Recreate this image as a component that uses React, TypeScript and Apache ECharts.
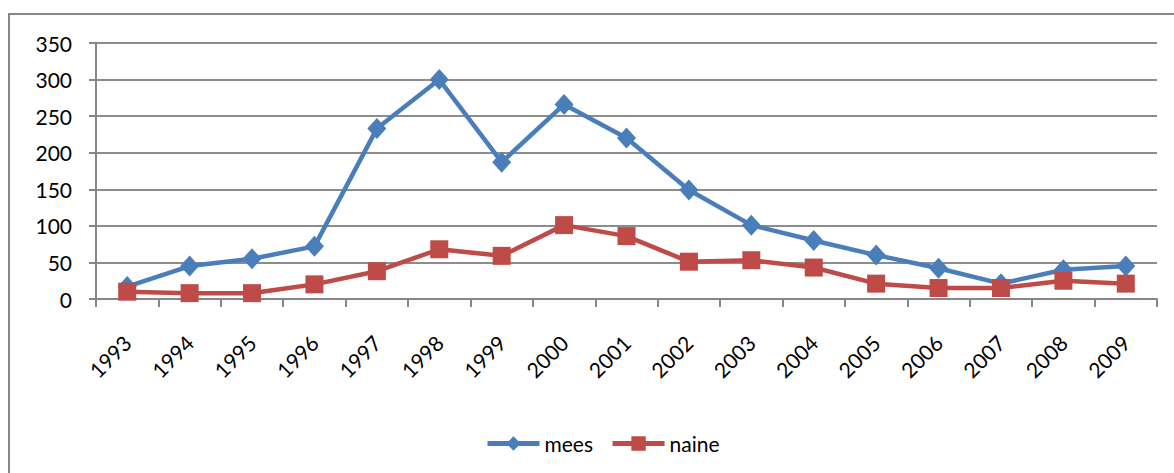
import React, { useEffect, useRef } from "react";
import * as echarts from "echarts";

const years = ["1993","1994","1995","1996","1997","1998","1999","2000","2001","2002","2003","2004","2005","2006","2007","2008","2009"];
const mees = [17, 45, 55, 72, 233, 300, 187, 266, 220, 149, 101, 80, 60, 42, 21, 40, 45];
const naine = [10, 8, 8, 20, 38, 68, 59, 101, 86, 51, 53, 43, 21, 15, 15, 25, 21];
const yTicks = { min: 0, max: 350, interval: 50 };

const FONT = "Lato";

export default function App() {
  const ref = useRef<HTMLDivElement>(null);
  useEffect(() => {
    if (!ref.current) return;
    const chart = echarts.init(ref.current, undefined, { renderer: "svg" });
    chart.setOption({
      animation: false,
      backgroundColor: "#ffffff",
      textStyle: { fontFamily: FONT },
      graphic: [
        {
          type: "rect",
          shape: { x: 9, y: 14, width: 1300, height: 600 },
          style: { fill: "none", stroke: "#868686", lineWidth: 2 },
          silent: true,
        },
      ],
      grid: {
        left: 96,
        right: 17,
        top: 43,
        bottom: 174,
        containLabel: false,
        outerBoundsMode: "none",
      },
      legend: {
        left: 480,
        top: 428,
        itemWidth: 52,
        itemHeight: 18,
        itemGap: 17,
        lineStyle: { width: 5 },
        textStyle: { fontFamily: FONT, fontSize: 21, color: "#000" },
        data: ["mees", "naine"],
      },
      xAxis: {
        type: "category",
        data: years,
        boundaryGap: true,
        axisLine: { lineStyle: { color: "#868686", width: 2 } },
        axisTick: { show: true, length: 8, alignWithLabel: false, lineStyle: { color: "#868686", width: 2 } },
        axisLabel: {
          rotate: 45,
          interval: 0,
          margin: 40,
          align: "right",
          verticalAlign: "middle",
          fontFamily: FONT,
          fontSize: 21,
          color: "#000",
        },
        splitLine: { show: false },
      },
      yAxis: {
        type: "value",
        min: yTicks.min,
        max: yTicks.max,
        interval: yTicks.interval,
        axisLine: { show: true, lineStyle: { color: "#868686", width: 2 } },
        axisTick: { show: true, length: 7, lineStyle: { color: "#868686", width: 2 } },
        axisLabel: { margin: 24, fontFamily: FONT, fontSize: 21, color: "#000" },
        splitLine: { show: true, lineStyle: { color: "#8c8c8c", width: 2 } },
      },
      series: [
        {
          name: "mees",
          type: "line",
          data: mees,
          symbol: "diamond",
          symbolSize: [19, 21],
          lineStyle: { color: "#4A7EBB", width: 4.5 },
          itemStyle: { color: "#4A7EBB" },
        },
        {
          name: "naine",
          type: "line",
          data: naine,
          symbol: "rect",
          symbolSize: 18,
          lineStyle: { color: "#BE4B48", width: 4.5 },
          itemStyle: { color: "#BE4B48" },
        },
      ],
    });
    return () => chart.dispose();
  }, []);
  return (
    <div
      ref={ref}
      style={{ position: "absolute", left: 0, top: 0, width: 1174, height: 473 }}
    />
  );
}
